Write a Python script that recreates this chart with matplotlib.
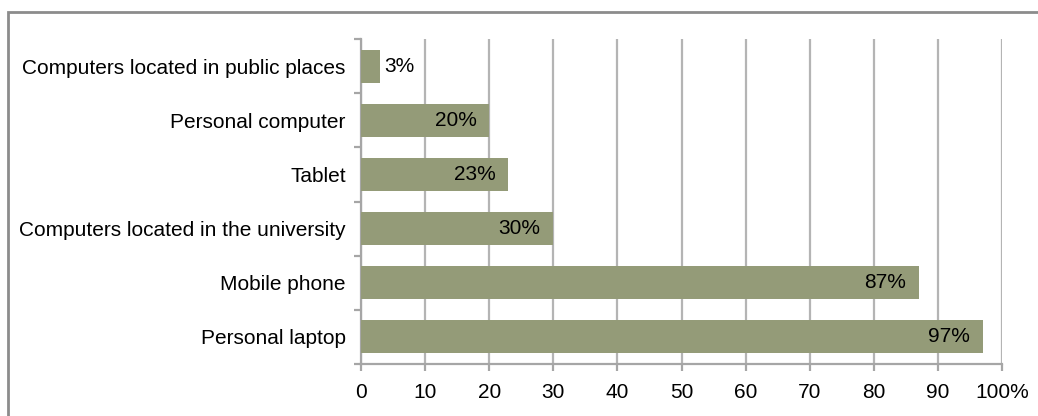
import matplotlib.pyplot as plt
from matplotlib.patches import Rectangle

categories = ['Personal laptop', 'Mobile phone', 'Computers located in the university',
              'Tablet', 'Personal computer', 'Computers located in public places']
values = [97, 87, 30, 23, 20, 3]
xticks = [0, 10, 20, 30, 40, 50, 60, 70, 80, 90, 100]
xticklabels = ['0', '10', '20', '30', '40', '50', '60', '70', '80', '90', '100%']

plt.rcParams['font.family'] = ['Liberation Sans', 'DejaVu Sans']

fig = plt.figure(figsize=(10.38, 4.16), dpi=100)
ax = fig.add_axes([361 / 1038, 1 - 364 / 416, 641 / 1038, 325 / 416])

bar_color = '#949b78'
ax.barh(range(len(categories)), values, height=0.61, color=bar_color, zorder=3)

for i, v in enumerate(values):
    if v < 10:
        ax.text(v + 0.6, i, f'{v}%', va='center', ha='left', fontsize=15, zorder=4)
    else:
        ax.text(v - 2.0, i, f'{v}%', va='center', ha='right', fontsize=15, zorder=4)

ax.set_xlim(0, 100)
ax.set_ylim(-0.5, len(categories) - 0.5)
ax.set_xticks(xticks)
ax.set_xticklabels(xticklabels, fontsize=15)
ax.set_yticks(range(len(categories)))
ax.set_yticklabels(categories, fontsize=15)
ax.set_yticks([i - 0.5 for i in range(len(categories) + 1)], minor=True)

ax.grid(axis='x', color='#b4b4b4', linewidth=1.6, zorder=0)
for s in ['top', 'right']:
    ax.spines[s].set_visible(False)
for s in ['left', 'bottom']:
    ax.spines[s].set_color('#a6a6a6')
    ax.spines[s].set_linewidth(1.6)

ax.tick_params(axis='y', which='major', length=0, pad=11)
ax.tick_params(axis='y', which='minor', length=5, width=1.6, color='#a6a6a6')
ax.tick_params(axis='x', length=5, width=1.6, color='#a6a6a6', pad=9)

# outer border
fig.patches.append(Rectangle((8 / 1038, -0.1), 1.2, 1 - 12 / 416 + 0.1,
                             transform=fig.transFigure, fill=False,
                             edgecolor='#8c8c8c', linewidth=2))

fig.savefig('out.png', dpi=100)
